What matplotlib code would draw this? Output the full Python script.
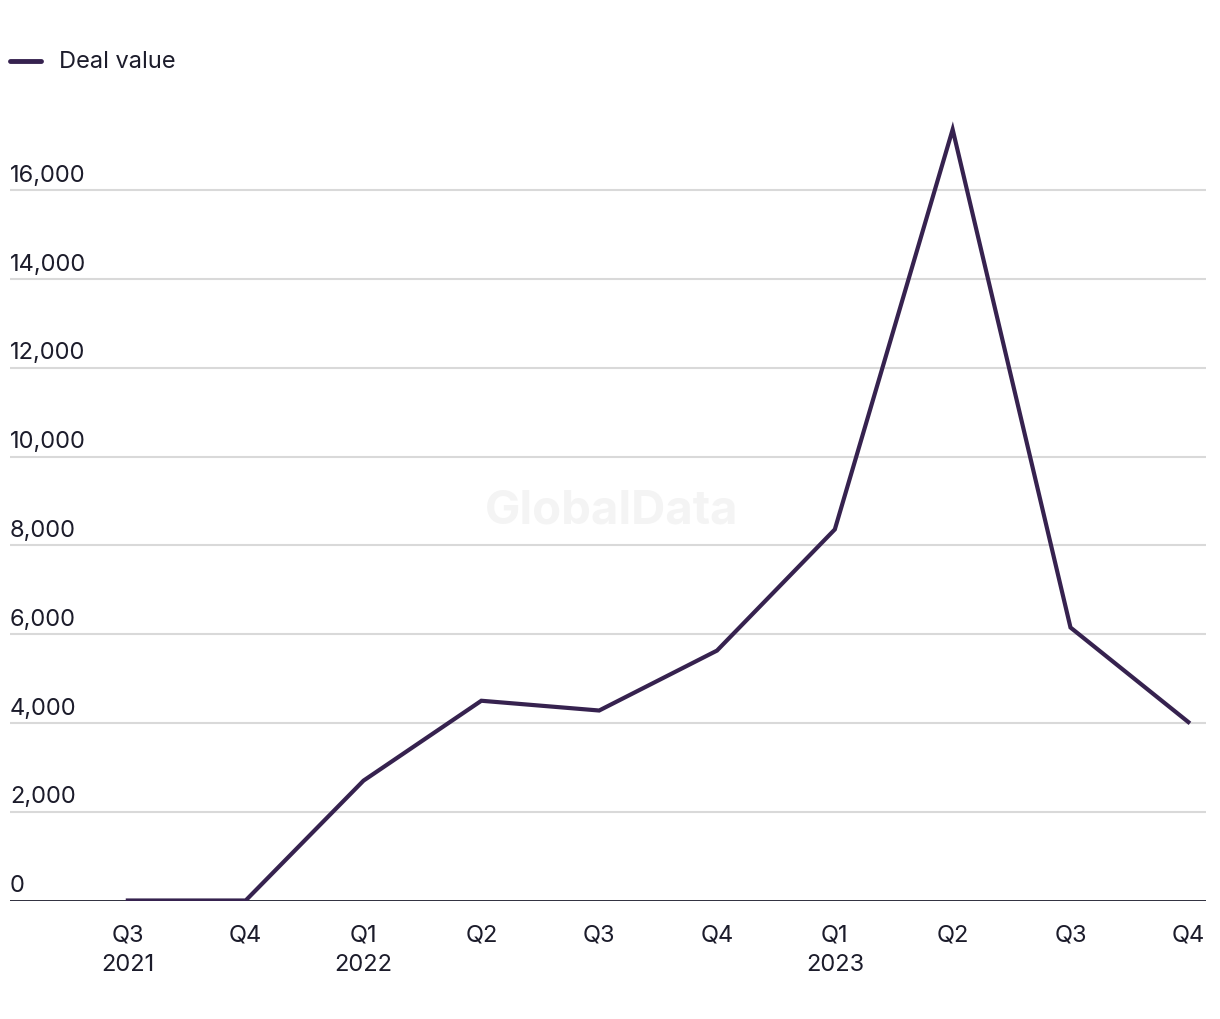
import matplotlib
matplotlib.use("Agg")
import matplotlib.pyplot as plt
from matplotlib.transforms import blended_transform_factory

quarters = ["Q3\n2021", "Q4", "Q1\n2022", "Q2", "Q3", "Q4", "Q1\n2023", "Q2", "Q3", "Q4"]
deal_value = [0, 0, 2700, 4500, 4280, 5630, 8360, 17370, 6150, 4020]
yticks = [0, 2000, 4000, 6000, 8000, 10000, 12000, 14000, 16000]

LINE = "#36224f"
TEXT = "#1c1c2b"
GRID = "#d9d9d9"

plt.rcParams['font.family'] = ['Inter', 'DejaVu Sans']

W, H = 1220, 1020
fig = plt.figure(figsize=(W / 100, H / 100), dpi=100)
left, right, bottom, top = 10, 1206, 901.5, 102.5
ax = fig.add_axes([left / W, 1 - bottom / H, (right - left) / W, (bottom - top) / H])

x = list(range(len(quarters)))
ax.set_xlim(-1.0, 9.15)
ax.set_ylim(0, 18000)

for t in yticks[1:]:
    ax.axhline(t, color=GRID, lw=1.5, zorder=1)
ax.axhline(0, color=TEXT, lw=2, zorder=3)

ax.plot(x, deal_value, color=LINE, lw=3, zorder=4, solid_joinstyle='miter')

tr = blended_transform_factory(ax.transAxes, ax.transData)
for t in yticks:
    ax.text(0, t + 100, f"{t:,}", transform=tr, ha='left', va='bottom',
            fontsize=17, color=TEXT)

for xi, lab in zip(x, quarters):
    ax.text(xi, -520, lab, ha='center', va='top', fontsize=17, color=TEXT,
            linespacing=1.45)

for s in ax.spines.values():
    s.set_visible(False)
ax.set_xticks([])
ax.set_yticks([])

fig.text(612 / W, 1 - 512 / H, "GlobalData", ha='center', va='center',
         fontsize=34, fontweight='bold', color="#f4f4f4", zorder=0)

# legend
fig.add_artist(plt.Line2D([10 / W, 41 / W], [1 - 62 / H, 1 - 62 / H], color=LINE, lw=3.5,
                          solid_capstyle='round'))
fig.text(59 / W, 1 - 62 / H, "Deal value", ha='left', va='center', fontsize=17, color=TEXT)

fig.savefig("out.png", dpi=100, facecolor='white')
